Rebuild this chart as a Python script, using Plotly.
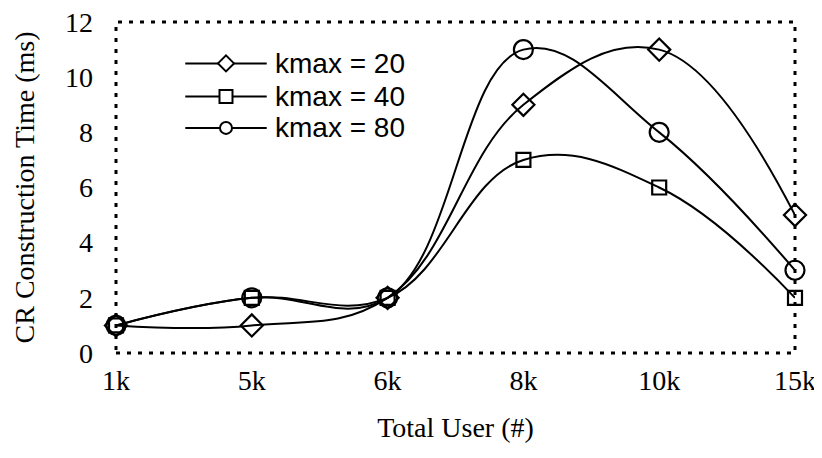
import plotly.graph_objects as go

# Data
users = ["1k", "5k", "6k", "8k", "10k", "15k"]
kmax20 = [1, 1, 2, 9, 11, 5]
kmax40 = [1, 2, 2, 7, 6, 2]
kmax80 = [1, 2, 2, 11, 8, 3]
names = ["kmax = 20", "kmax = 40", "kmax = 80"]
yticks = [0, 2, 4, 6, 8, 10, 12]

serif = "Liberation Serif, Times New Roman, serif"
sans = "Liberation Sans, Arial, sans-serif"

series = [
    (names[0], kmax20, "diamond-open", 17),
    (names[1], kmax40, "square-open", 14),
    (names[2], kmax80, "circle-open", 19),
]

fig = go.Figure()
for name, vals, sym, size in series:
    fig.add_trace(go.Scatter(
        x=users, y=vals, name=name, showlegend=False,
        mode="lines+markers",
        line=dict(color="black", width=2, shape="spline", smoothing=1.15),
        marker=dict(symbol=sym, size=size, color="black", line=dict(width=2.2)),
        cliponaxis=False,
    ))

# dotted frame around plot area
fig.add_shape(type="rect", xref="paper", yref="paper", x0=0, y0=0, x1=1, y1=1,
              line=dict(color="black", width=3, dash="4px,7px"), layer="below")

# hand-drawn legend (long line with marker in the middle, like the original)
leg_x0, leg_x1, leg_mx, leg_tx = 0.102, 0.222, 0.162, 0.231
leg_rows = [0.875, 0.775, 0.68]
glyphs = [
    dict(type="path", path="M -8,0 L 0,8 L 8,0 L 0,-8 Z"),
    dict(type="rect", x0=-6.5, x1=6.5, y0=-6.5, y1=6.5),
    dict(type="circle", x0=-6, x1=6, y0=-6, y1=6),
]
for name, yy, g in zip(names, leg_rows, glyphs):
    fig.add_shape(type="line", xref="paper", yref="paper", x0=leg_x0, x1=leg_x1, y0=yy, y1=yy,
                  line=dict(color="black", width=2))
    fig.add_shape(xref="paper", yref="paper", xsizemode="pixel", ysizemode="pixel",
                  xanchor=leg_mx, yanchor=yy, fillcolor="white",
                  line=dict(color="black", width=2), **g)
    fig.add_annotation(xref="paper", yref="paper", x=leg_tx, y=yy, text=name,
                       showarrow=False, xanchor="left", yanchor="middle",
                       font=dict(family=sans, size=28, color="black"))

fig.update_layout(
    width=822, height=458,
    margin=dict(l=108, r=35, t=14, b=113),
    plot_bgcolor="white", paper_bgcolor="white",
    showlegend=False,
    xaxis=dict(
        type="category", range=[0, 5], showgrid=False, zeroline=False, automargin=False,
        showline=False, ticks="", ticklabelstandoff=8,
        tickfont=dict(family=serif, size=28, color="black"),
        title=dict(text="Total User (#)", font=dict(family=serif, size=28, color="black"), standoff=22),
    ),
    yaxis=dict(
        range=[0, 12.001], tickvals=yticks, ticktext=[str(v) for v in yticks],
        showgrid=False, zeroline=False, showline=False, automargin=False,
        ticks="", ticklabelstandoff=22, ticklabeloverflow="allow",
        tickfont=dict(family=serif, size=28, color="black"),
        title=dict(text="CR Construction Time (ms)", font=dict(family=serif, size=28, color="black"), standoff=22),
    ),
)

fig.write_html("out.html")
